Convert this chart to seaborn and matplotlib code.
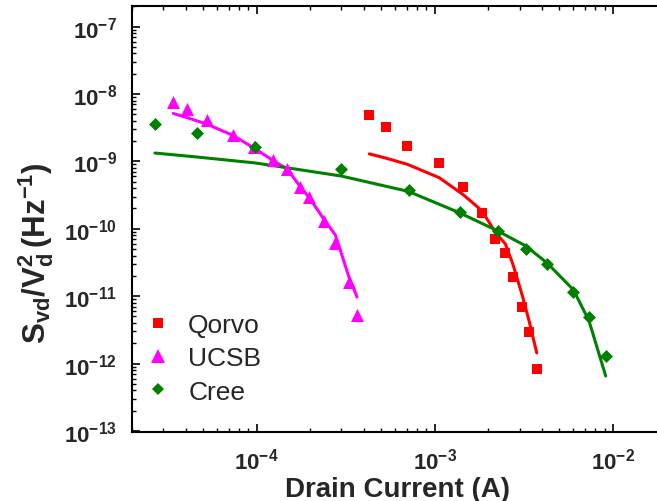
import matplotlib
matplotlib.use("Agg")
import matplotlib.pyplot as plt
from matplotlib.lines import Line2D
from matplotlib.ticker import FixedLocator, LogLocator, NullFormatter
import seaborn as sns
import numpy as np

sns.set_style("white")
plt.rcParams['font.family'] = ['Liberation Sans', 'DejaVu Sans']
plt.rcParams['mathtext.fontset'] = 'custom'
plt.rcParams['mathtext.rm'] = 'Liberation Sans:bold'
plt.rcParams['mathtext.it'] = 'Liberation Sans:bold'
plt.rcParams['mathtext.bf'] = 'Liberation Sans:bold'
plt.rcParams['mathtext.default'] = 'regular'

# ---- data ----
qorvo_x = [4.30e-4, 5.31e-4, 7.02e-4, 1.061e-3, 1.446e-3, 1.841e-3, 2.186e-3,
           2.496e-3, 2.748e-3, 3.111e-3, 3.391e-3, 3.744e-3]
qorvo_y = [4.88e-9, 3.21e-9, 1.71e-9, 9.56e-10, 4.13e-10, 1.73e-10, 6.99e-11,
           4.33e-11, 1.95e-11, 6.84e-12, 2.91e-12, 8.32e-13]
qorvo_fit = [1.29e-9, 1.12e-9, 9.06e-10, 5.73e-10, 3.21e-10, 1.86e-10, 8.97e-11,
             5.95e-11, 3.00e-11, 1.01e-11, 4.29e-12, 1.44e-12]

ucsb_x = [3.41e-5, 4.05e-5, 5.24e-5, 7.40e-5, 9.66e-5, 1.24e-4, 1.486e-4,
          1.748e-4, 1.982e-4, 2.384e-4, 2.772e-4, 3.291e-4, 3.667e-4]
ucsb_y = [7.69e-9, 5.99e-9, 4.07e-9, 2.46e-9, 1.62e-9, 1.05e-9, 7.71e-10,
          4.13e-10, 2.93e-10, 1.32e-10, 6.16e-11, 1.61e-11, 5.26e-12]
ucsb_fit = [5.14e-9, 4.48e-9, 3.59e-9, 2.42e-9, 1.58e-9, 1.03e-9, 7.71e-10,
            4.32e-10, 2.86e-10, 1.40e-10, 8.09e-11, 1.99e-11, 9.73e-12]

cree_x = [2.69e-5, 4.65e-5, 9.87e-5, 2.984e-4, 7.14e-4, 1.386e-3, 2.263e-3,
          3.25e-3, 4.28e-3, 6.02e-3, 7.36e-3, 9.13e-3]
cree_y = [3.59e-9, 2.61e-9, 1.65e-9, 7.66e-10, 3.76e-10, 1.78e-10, 9.37e-11,
          4.96e-11, 2.97e-11, 1.14e-11, 4.86e-12, 1.31e-12]
cree_fit = [1.33e-9, 1.16e-9, 9.47e-10, 6.07e-10, 3.58e-10, 1.72e-10, 9.28e-11,
            5.56e-11, 3.11e-11, 1.24e-11, 4.29e-12, 6.55e-13]

x_major = [1e-4, 1e-3, 1e-2]
y_major = [1e-13, 1e-12, 1e-11, 1e-10, 1e-9, 1e-8, 1e-7]

series = [
    ("Qorvo", qorvo_x, qorvo_y, qorvo_fit, "#FF0000", "s", 7.2),
    ("UCSB", ucsb_x, ucsb_y, ucsb_fit, "#FF00FF", "^", 9.4),
    ("Cree", cree_x, cree_y, cree_fit, "#008000", "D", 6.6),
]

fig = plt.figure(figsize=(6.57, 5.02), dpi=100)
ax = fig.add_axes([132/657, 1-433/502, 1-132/657, (433-7)/502])

handles = []
for name, xs, ys, fit, col, mk, ms in series:
    sns.lineplot(x=xs, y=fit, ax=ax, color=col, linewidth=2.2, sort=False,
                 estimator=None)
    sns.scatterplot(x=xs, y=ys, ax=ax, color=col, marker=mk, s=ms**2,
                    linewidth=0, zorder=3)
    handles.append(Line2D([], [], linestyle='', marker=mk, markersize=ms,
                          color=col, markeredgewidth=0, label=name))

ax.set_xscale('log')
ax.set_yscale('log')
ax.set_xlim(2.0e-5, 1.772e-2)
ax.set_ylim(9.66e-14, 2.02e-7)

ax.xaxis.set_major_locator(FixedLocator(x_major))
ax.xaxis.set_minor_locator(LogLocator(base=10, subs=np.arange(2, 10), numticks=20))
ax.yaxis.set_major_locator(FixedLocator(y_major))
ax.yaxis.set_minor_locator(LogLocator(base=10, subs=np.arange(2, 10), numticks=20))
ax.xaxis.set_minor_formatter(NullFormatter())
ax.yaxis.set_minor_formatter(NullFormatter())

for s in ['left', 'bottom', 'top']:
    ax.spines[s].set_linewidth(1.5)
    ax.spines[s].set_color('black')
ax.spines['right'].set_visible(False)

ax.tick_params(which='both', direction='in', top=True, bottom=True, left=True,
               right=False, color='black')
ax.tick_params(which='major', length=6, width=1.2, labelsize=16)
ax.tick_params(axis='y', which='major', pad=11)
ax.tick_params(axis='x', which='major', pad=11)
ax.tick_params(which='minor', length=3, width=1.0)
for lab in ax.get_xticklabels() + ax.get_yticklabels():
    lab.set_fontweight('bold')

ax.set_xlabel("Drain Current (A)", fontsize=20, fontweight='bold')
ax.xaxis.set_label_coords(0.5057, -0.103)
ax.set_ylabel(r"$S_{vd}/V_d^{2}\,(Hz^{-1})$", fontsize=22.5, fontweight='bold')
ax.yaxis.set_label_coords(-0.145, 0.4225)

leg = ax.legend(handles=handles, loc='lower left', bbox_to_anchor=(-0.01, 0.023),
                frameon=False, fontsize=19, handlelength=1.0, handletextpad=0.63,
                labelspacing=0.35, borderaxespad=0.3)

fig.savefig("out.png", dpi=100)
